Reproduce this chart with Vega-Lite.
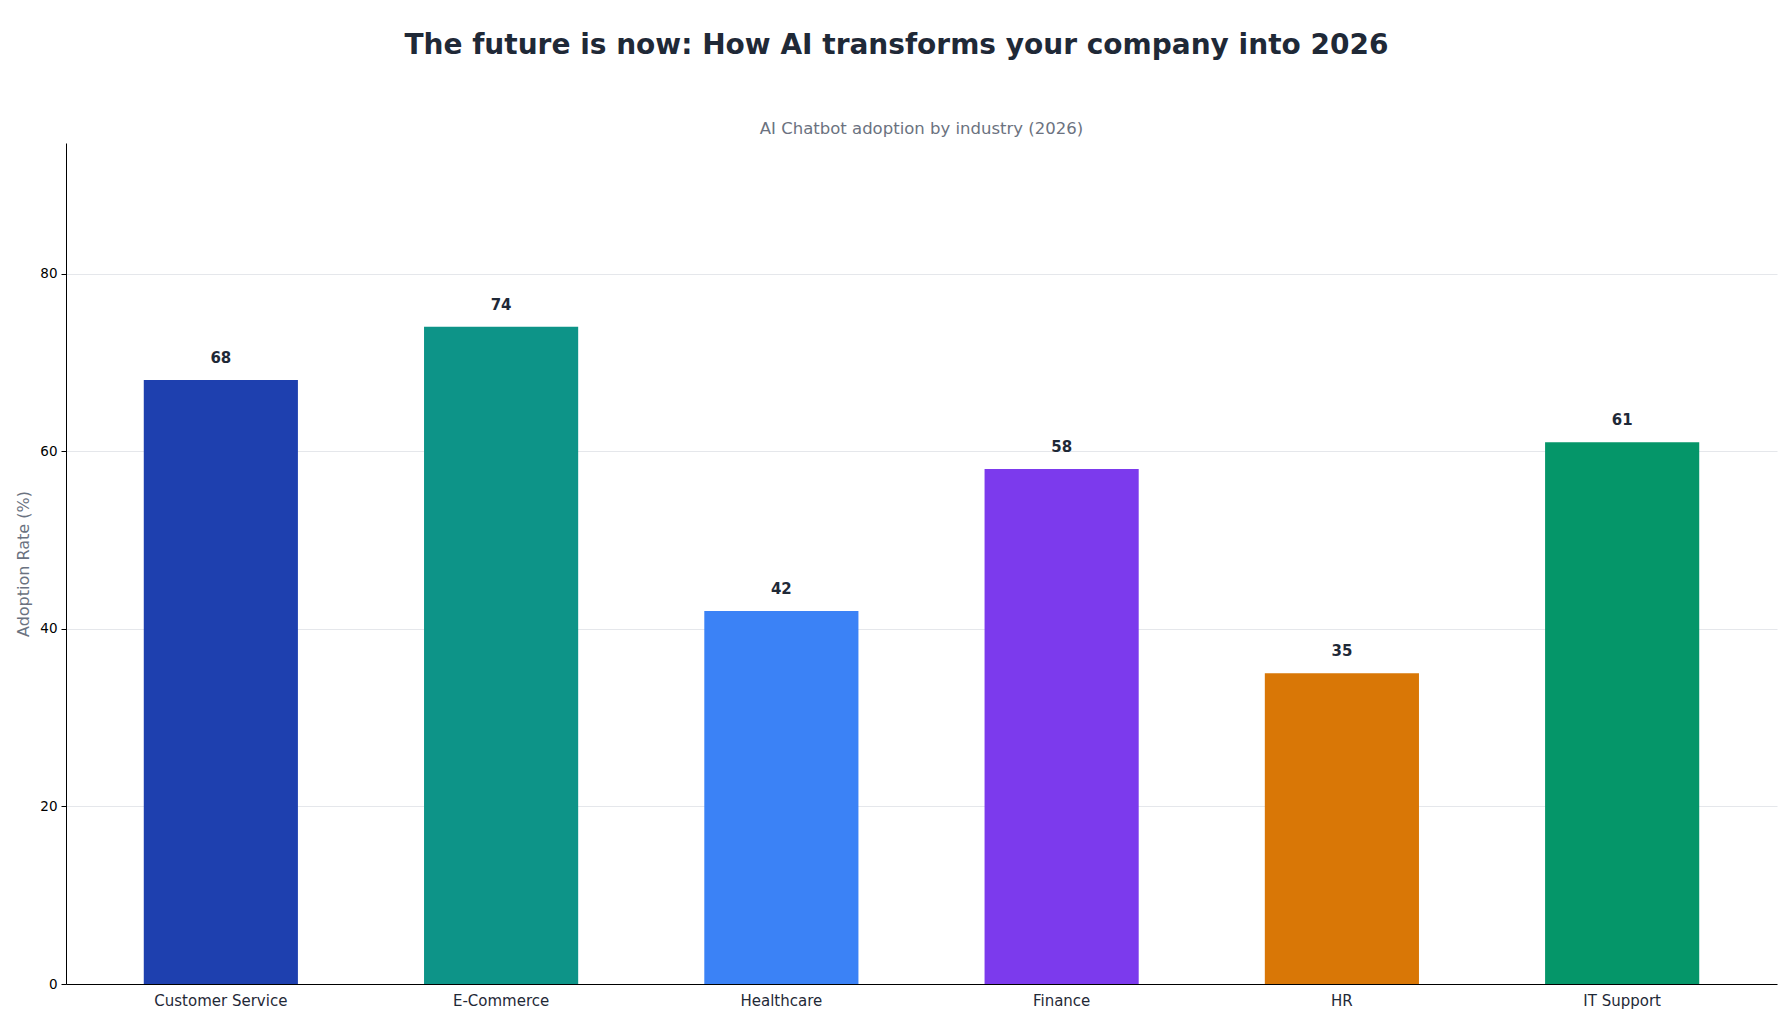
{
  "$schema": "https://vega.github.io/schema/vega-lite/v6.json",
  "padding": {"left": 15, "top": 31, "right": 15, "bottom": 5},
  "background": "white",
  "title": {
    "text": "The future is now: How AI transforms your company into 2026",
    "font": "DejaVu Sans",
    "fontSize": 28,
    "fontWeight": "bold",
    "color": "#1f2937",
    "anchor": "middle",
    "frame": "bounds",
    "offset": 61
  },
  "config": {
    "view": {"stroke": null},
    "font": "DejaVu Sans"
  },
  "vconcat": [
    {
      "width": 1711,
      "height": 841,
      "title": {
        "text": "AI Chatbot adoption by industry (2026)",
        "font": "DejaVu Sans",
        "fontSize": 16.5,
        "fontWeight": "normal",
        "color": "#6b7280",
        "anchor": "middle",
        "frame": "group",
        "offset": 6
      },
      "data": {
        "values": [
          {"industry": "Customer Service", "rate": 68},
          {"industry": "E-Commerce", "rate": 74},
          {"industry": "Healthcare", "rate": 42},
          {"industry": "Finance", "rate": 58},
          {"industry": "HR", "rate": 35},
          {"industry": "IT Support", "rate": 61}
        ]
      },
      "encoding": {
        "x": {
          "field": "industry",
          "type": "nominal",
          "sort": null,
          "scale": {"paddingInner": 0.45, "paddingOuter": 0.2775},
          "axis": {
            "title": null,
            "labelAngle": 0,
            "labelFontSize": 15,
            "labelColor": "#1f2937",
            "labelPadding": 9,
            "ticks": false,
            "domainColor": "#000000",
            "grid": false
          }
        },
        "y": {
          "field": "rate",
          "type": "quantitative",
          "scale": {"domain": [0, 94.7], "nice": false},
          "axis": {
            "title": "Adoption Rate (%)",
            "titleFontSize": 16,
            "titleFontWeight": "normal",
            "titleColor": "#6b7280",
            "titlePadding": 8,
            "values": [0, 20, 40, 60, 80],
            "labelFontSize": 13.5,
            "labelColor": "#000000",
            "labelPadding": 4,
            "tickSize": 5,
            "tickColor": "#000000",
            "domainColor": "#000000",
            "grid": true,
            "gridColor": "#e5e7eb"
          }
        }
      },
      "layer": [
        {
          "mark": {"type": "bar"},
          "encoding": {
            "color": {
              "field": "industry",
              "type": "nominal",
              "legend": null,
              "scale": {
                "domain": ["Customer Service", "E-Commerce", "Healthcare", "Finance", "HR", "IT Support"],
                "range": ["#1e40af", "#0d9488", "#3b82f6", "#7c3aed", "#d97706", "#059669"]
              }
            }
          }
        },
        {
          "mark": {
            "type": "text",
            "baseline": "alphabetic",
            "dy": -17,
            "fontSize": 15,
            "fontWeight": "bold",
            "color": "#1f2937"
          },
          "encoding": {
            "text": {"field": "rate", "type": "quantitative"}
          }
        }
      ]
    }
  ]
}
